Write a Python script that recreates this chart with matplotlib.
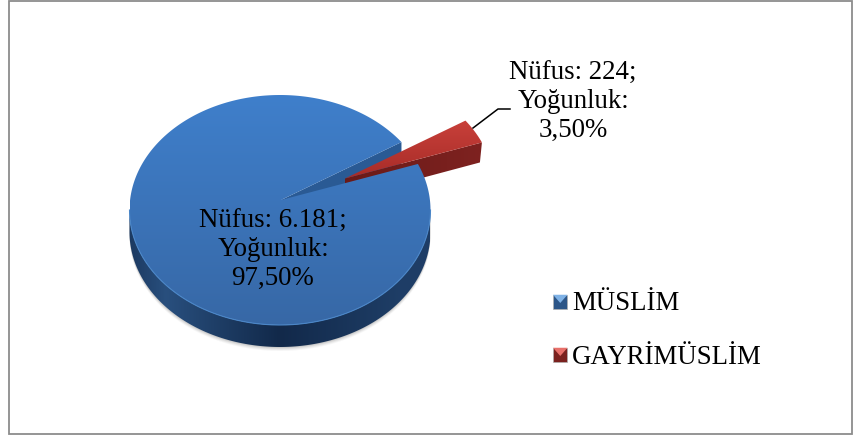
import numpy as np
import matplotlib
matplotlib.use('Agg')
import matplotlib.pyplot as plt
from matplotlib.patches import Polygon, Rectangle

plt.rcParams['font.family'] = ['Liberation Serif', 'DejaVu Serif']

labels = ['MÜSLİM', 'GAYRİMÜSLİM']
nufus = [6181, 224]
nufus_txt = ['6.181', '224']
yogunluk_txt = ['97,50%', '3,50%']

W, H = 854, 437
cx, cy = 280, 210      # ellipse centre
a, b = 150.5, 115      # top face radii
apex = np.array([281, 200.])
depth = 22
explode = np.array([64, -21.5])
start = 23.6           # red slice starts here (deg)

sweep = nufus[1] / sum(nufus) * 360


def rim(t):
    t = np.radians(t)
    return np.column_stack([cx + a * np.cos(t), cy - b * np.sin(t)])


def grad(ax, poly, c1, c2, horizontal=False, z=1):
    # gradient image clipped by polygon
    c1 = np.array(matplotlib.colors.to_rgb(c1))
    c2 = np.array(matplotlib.colors.to_rgb(c2))
    x0, y0 = poly.min(axis=0)
    x1, y1 = poly.max(axis=0)
    s = np.linspace(0, 1, 128)
    if callable(horizontal):
        s = horizontal(s)
    img = c1 + (c2 - c1) * s[:, None]
    img = img[None, :, :] if horizontal is not False else img[:, None, :]
    im = ax.imshow(img, extent=(x0, x1, y1, y0), aspect='auto', zorder=z, interpolation='bilinear')
    im.set_clip_path(Polygon(poly, closed=True, transform=ax.transData))


fig = plt.figure(figsize=(W / 100, H / 100), dpi=100)
ax = fig.add_axes([0, 0, 1, 1])
ax.set_xlim(0, W)
ax.set_ylim(H, 0)
ax.axis('off')

ax.add_patch(Rectangle((9, 0.5), 843, 433, fc='white', ec='#8c8c8c', lw=1.3, zorder=0))

# soft shadow under the pie
for i, al in zip([4, 3, 2, 1], [0.05, 0.07, 0.09, 0.12]):
    t = np.linspace(180, 360, 100)
    p = rim(t) + [0, depth + i]
    ax.add_patch(Polygon(np.vstack([rim(t), p[::-1]]), fc='#555555', ec='none', alpha=al, zorder=1))

# blue side
t = np.linspace(180, 360, 200)
side = np.vstack([rim(t), (rim(t) + [0, depth])[::-1]])
edge = lambda s: np.interp(s, [0, 0.12, 0.5, 0.9, 1], [0.75, 0.45, 1, 0.7, 0.7])
grad(ax, side, '#3b6ea8', '#12294a', horizontal=edge, z=2)

# inner wall of the gap
e1 = rim(start + sweep)[0]
e2 = rim(start)[0]
wall = np.array([apex, e1, e1 + [0, depth], apex + [0, depth]])
ax.add_patch(Polygon(wall, fc='#2a5a94', ec='none', zorder=3))

# red slice
r_apex = apex + explode
r_t = np.linspace(start, start + sweep, 30)
r_rim = rim(r_t) + explode
r_side = np.array([r_apex, r_rim[0], r_rim[0] + [-2, depth - 2], r_apex + [0, depth - 2]])
grad(ax, r_side, '#6a1a18', '#7e2220', horizontal=True, z=4)
grad(ax, np.vstack([r_apex, r_rim]), '#c8403a', '#a82c28', z=5)

# blue top face
t = np.linspace(start + sweep, start + 360, 400)
top = np.vstack([apex, rim(t)])
grad(ax, top, '#3f7fcb', '#3768a6', z=6)
ax.plot(rim(np.linspace(180, 360, 200))[:, 0], rim(np.linspace(180, 360, 200))[:, 1],
        color='#4a86c8', lw=0.8, zorder=7)

# leader line
ax.plot([473, 498, 510], [128, 109, 109], color='black', lw=1.1, zorder=8)

# data labels
fs = 19.4
ax.text(273, 250, 'Nüfus: %s;\nYoğunluk:\n%s' % (nufus_txt[0], yogunluk_txt[0]), ha='center', va='center',
        fontsize=fs, linespacing=1.2, color='black', zorder=9)
ax.text(573, 102, 'Nüfus: %s;\nYoğunluk:\n%s' % (nufus_txt[1], yogunluk_txt[1]), ha='center', va='center',
        fontsize=fs, linespacing=1.2, color='black', zorder=9)

# legend
leg_y = [302, 355]
leg_col = [('#3f7fcb', '#2c5688', '#7fb2e6'), ('#b8322e', '#7a211e', '#e8706a')]
for lab, y, col in zip(labels, leg_y, leg_col):
    x0, s = 553, 14.5
    ax.add_patch(Rectangle((x0, y - s / 2), s, s, fc=col[1], ec='#b0b0b0', lw=0.5, zorder=8))
    ax.add_patch(Polygon([[x0, y - s / 2], [x0 + s, y - s / 2], [x0 + s / 2, y + 1]], fc=col[2], ec='none', zorder=9))
    ax.text(572, y + 2, lab, ha='left', va='center', fontsize=fs, color='black', zorder=9)

fig.savefig('out.png', dpi=100)
